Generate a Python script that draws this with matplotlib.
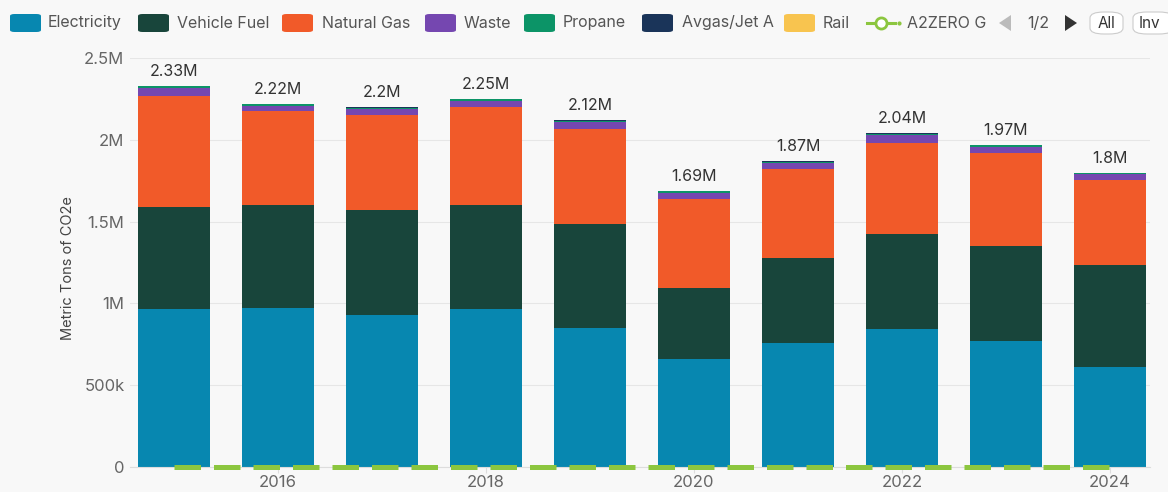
import matplotlib
matplotlib.use("Agg")
import matplotlib.pyplot as plt
from matplotlib.patches import FancyBboxPatch, Polygon
from matplotlib.lines import Line2D
from matplotlib.ticker import FuncFormatter, MultipleLocator

plt.rcParams['font.family'] = ['Inter', 'DejaVu Sans']

years = [2015, 2016, 2017, 2018, 2019, 2020, 2021, 2022, 2023, 2024]
electricity = [966000, 972000, 929000, 966000, 850000, 660000, 758000, 844000, 770000, 611000]
vehicle_fuel = [623000, 630000, 642000, 635000, 635000, 434000, 520000, 580000, 581000, 624000]
natural_gas = [679000, 575000, 581000, 600000, 581000, 544000, 544000, 556000, 568000, 519000]
waste = [50000, 32000, 38000, 38000, 40000, 35000, 35000, 50000, 40000, 35000]
propane = [8000, 8000, 7000, 8000, 9000, 12000, 9000, 7000, 8000, 8000]
avgas = [3000, 2000, 2000, 2000, 4000, 4000, 3000, 2000, 2000, 2000]
rail = [1000, 1000, 1000, 1000, 1000, 1000, 1000, 1000, 1000, 1000]
a2zero_goal = [0, 0, 0, 0, 0, 0, 0, 0, 0, 0]
total_labels = ["2.33M", "2.22M", "2.2M", "2.25M", "2.12M", "1.69M", "1.87M", "2.04M", "1.97M", "1.8M"]
xtick_years = [2016, 2018, 2020, 2022, 2024]

series = [
    ("Electricity", electricity, "#0787b0"),
    ("Vehicle Fuel", vehicle_fuel, "#18453b"),
    ("Natural Gas", natural_gas, "#f15a29"),
    ("Waste", waste, "#7547b0"),
    ("Propane", propane, "#0c9467"),
    ("Avgas/Jet A", avgas, "#1a3459"),
    ("Rail", rail, "#f8c44f"),
]
goal_color = "#8cc63f"
bg = "#f8f8f8"

W, H = 1168, 492
fig = plt.figure(figsize=(W / 100, H / 100), dpi=100, facecolor=bg)
ax_l, ax_r, ax_t, ax_b = 130, 1150, 58, 467
ax = fig.add_axes([ax_l / W, 1 - ax_b / H, (ax_r - ax_l) / W, (ax_b - ax_t) / H], facecolor=bg)

bottom = [0] * len(years)
for name, vals, col in series:
    ax.bar(years, vals, width=0.69, bottom=bottom, color=col, linewidth=0, zorder=2)
    bottom = [b + v for b, v in zip(bottom, vals)]

for x, tot, lab in zip(years, bottom, total_labels):
    ax.annotate(lab, (x, tot), xytext=(0, 5), textcoords="offset points",
                ha="center", va="bottom", fontsize=11.5, color="#333333", zorder=5)

ln, = ax.plot(years, a2zero_goal, color=goal_color, lw=3.6, zorder=4, clip_on=False,
              solid_capstyle="butt", dash_capstyle="butt")
ln.set_dashes((5.3, 2.6))

ax.set_xlim(2014.577, 2024.385)
ax.set_ylim(0, 2500000)
ax.yaxis.set_major_locator(MultipleLocator(500000))

def yfmt(v, _):
    if v == 0:
        return "0"
    if v >= 1e6:
        s = f"{v/1e6:.1f}".rstrip("0").rstrip(".")
        return s + "M"
    return f"{int(v/1000)}k"

ax.yaxis.set_major_formatter(FuncFormatter(yfmt))
ax.set_xticks(xtick_years)
ax.set_xticklabels([str(y) for y in xtick_years])
ax.grid(axis="y", color="#e6e6e6", lw=0.8, zorder=0)
for s in ["top", "right", "left"]:
    ax.spines[s].set_visible(False)
ax.spines["bottom"].set_color("#dddddd")
ax.tick_params(axis="y", length=0, pad=4, labelsize=12, labelcolor="#666666")
ax.tick_params(axis="x", length=4, color="#dddddd", pad=2, labelsize=12, labelcolor="#666666")
fig.text(68 / W, 1 - 268 / H, "Metric Tons of CO2e", rotation=90, ha="center", va="center",
         fontsize=10.5, color="#444444")

# Legend
def fx(x):
    return x / W

def fy(y):
    return 1 - y / H

sw_x = [10, 138, 282, 425, 524, 642, 784]
tx_x = [48, 177, 322, 464, 563, 682, 823]
ly = 23
for (name, vals, col), sx, tx in zip(series, sw_x, tx_x):
    p = FancyBboxPatch((fx(sx), fy(ly + 9)), fx(31), 18 / H,
                       boxstyle="round,pad=0,rounding_size=0.004",
                       transform=fig.transFigure, facecolor=col, edgecolor="none")
    fig.patches.append(p)
    fig.text(fx(tx), fy(ly), name, ha="left", va="center", fontsize=11.5, color="#555555")

fig.lines.append(Line2D([fx(867), fx(895)], [fy(ly), fy(ly)], transform=fig.transFigure,
                        color=goal_color, lw=2.2))
fig.lines.append(Line2D([fx(881)], [fy(ly)], transform=fig.transFigure, marker="o",
                        markersize=8, markerfacecolor="white", markeredgecolor=goal_color,
                        markeredgewidth=2, color=goal_color))
fig.lines.append(Line2D([fx(899)], [fy(ly)], transform=fig.transFigure, marker="o",
                        markersize=2, color=goal_color, lw=0))
fig.text(fx(907), fy(ly), "A2ZERO G", ha="left", va="center", fontsize=11.5, color="#555555")

fig.patches.append(Polygon([(fx(1011), fy(ly - 8)), (fx(1011), fy(ly + 8)), (fx(999), fy(ly))],
                           closed=True, transform=fig.transFigure, facecolor="#bbbbbb", edgecolor="none"))
fig.text(fx(1038), fy(ly), "1/2", ha="center", va="center", fontsize=11.5, color="#555555")
fig.patches.append(Polygon([(fx(1065), fy(ly - 8)), (fx(1065), fy(ly + 8)), (fx(1077), fy(ly))],
                           closed=True, transform=fig.transFigure, facecolor="#333333", edgecolor="none"))
for bx, bw, lab in [(1090, 33, "All"), (1133, 40, "Inv")]:
    fig.patches.append(FancyBboxPatch((fx(bx), fy(ly + 11)), fx(bw), 22 / H,
                                      boxstyle="round,pad=0,rounding_size=0.012",
                                      transform=fig.transFigure, facecolor="white",
                                      edgecolor="#cccccc", lw=0.8))
    fig.text(fx(bx + 16), fy(ly), lab, ha="center", va="center", fontsize=11, color="#333333")

fig.savefig("out.png", dpi=100, facecolor=bg)
